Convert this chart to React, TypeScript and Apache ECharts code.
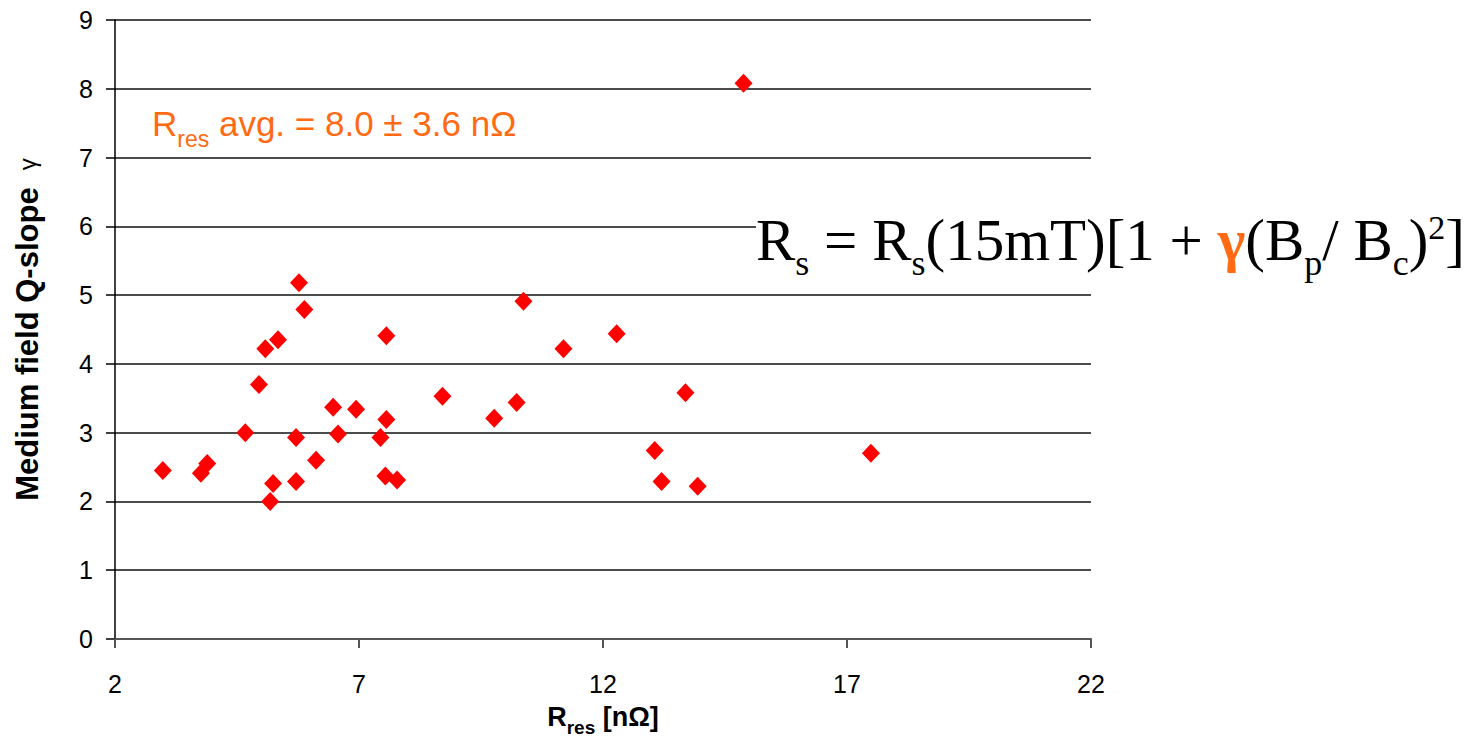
import React, { useEffect, useRef } from "react";
import * as echarts from "echarts";

const rres: number[] = [2.98, 3.76, 3.89, 4.67, 4.95, 5.08, 5.34, 5.18, 5.24, 5.71, 5.71, 5.77, 5.88, 6.12, 6.47, 6.57, 6.94, 7.44, 7.56, 7.56, 7.54, 7.78, 8.71, 9.77, 10.23, 10.37, 11.19, 12.28, 13.06, 13.2, 13.69, 13.94, 14.88, 17.49];
const gamma: number[] = [2.45, 2.41, 2.55, 3.0, 3.7, 4.22, 4.35, 2.0, 2.26, 2.29, 2.93, 5.18, 4.79, 2.6, 3.37, 2.98, 3.34, 2.93, 4.41, 3.19, 2.37, 2.31, 3.53, 3.21, 3.44, 4.91, 4.22, 4.44, 2.74, 2.29, 3.58, 2.22, 8.08, 2.7];
const xTicks: number[] = [2, 7, 12, 17, 22];
const yTicks: number[] = [0, 1, 2, 3, 4, 5, 6, 7, 8, 9];

const FONT = "'Liberation Sans', Arial, sans-serif";
const SERIF = "'Liberation Serif', 'DejaVu Serif', serif";
const ORANGE = "#ff6a13";

export default function App() {
  const ref = useRef<HTMLDivElement>(null);
  useEffect(() => {
    if (!ref.current) return;
    const chart = echarts.init(ref.current, null, { renderer: "svg" });
    const data = rres.map((x, i) => [x, gamma[i]]);
    chart.setOption({
      animation: false,
      backgroundColor: "#ffffff",
      grid: { left: 115, top: 20, right: 383, bottom: 102 },
      xAxis: {
        type: "value",
        min: xTicks[0],
        max: xTicks[xTicks.length - 1],
        interval: 5,
        name: "{b|R}{s|res}{b| [nΩ]}",
        nameLocation: "middle",
        nameGap: 64,
        nameTextStyle: {
          rich: {
            b: { fontFamily: FONT, fontWeight: "bold", fontSize: 27, color: "#000", lineHeight: 34, verticalAlign: "top" },
            s: { fontFamily: FONT, fontWeight: "bold", fontSize: 19, color: "#000", lineHeight: 16, verticalAlign: "bottom" },
          },
        },
        axisLine: { show: true, lineStyle: { color: "#555", width: 2 } },
        axisTick: { show: true, inside: false, length: 9, lineStyle: { color: "#555", width: 2 } },
        axisLabel: { fontFamily: FONT, fontSize: 25, color: "#000", margin: 32 },
        splitLine: { show: false },
      },
      yAxis: {
        type: "value",
        min: yTicks[0],
        max: yTicks[yTicks.length - 1],
        interval: 1,
        name: "{b|Medium field Q-slope  }{g|γ}",
        nameLocation: "middle",
        nameGap: 72,
        nameRotate: 90,
        nameTextStyle: {
          rich: {
            b: { fontFamily: FONT, fontWeight: "bold", fontSize: 31, color: "#000" },
            g: { fontFamily: FONT, fontWeight: "normal", fontSize: 24, color: "#000" },
          },
        },
        axisLine: { show: true, lineStyle: { color: "#000", width: 1.5 } },
        axisTick: { show: true, inside: false, length: 9, lineStyle: { color: "#000", width: 1.5 } },
        axisLabel: { fontFamily: FONT, fontSize: 25, color: "#000", margin: 22 },
        splitLine: { show: true, lineStyle: { color: "#111", width: 1.5 } },
      },
      series: [
        {
          type: "scatter",
          data,
          symbol: "diamond",
          symbolSize: [18, 19],
          itemStyle: { color: "#ff0000", opacity: 1 },
          z: 5,
        },
      ],
      graphic: [
        {
          type: "text",
          left: 152,
          top: 106,
          z: 10,
          style: {
            text: "{m|R}{s|res}{m| avg. = 8.0 ± 3.6 nΩ}",
            rich: {
              m: { fontFamily: FONT, fontSize: 35, fill: ORANGE, lineHeight: 44, verticalAlign: "top" },
              s: { fontFamily: FONT, fontSize: 23, fill: ORANGE, lineHeight: 18, verticalAlign: "bottom" },
            },
          },
        },
        {
          type: "text",
          left: 756,
          top: 210,
          z: 10,
          style: {
            text: "{m|R}{s|s}{m| = R}{s|s}{m|(15mT)[1 + }{g|γ}{m|(B}{s|p}{m|/ B}{s|c}{m|)}{p|2}{m|]}",
            backgroundColor: "#ffffff",
            rich: {
              m: { fontFamily: SERIF, fontSize: 59, fill: "#000", lineHeight: 71, verticalAlign: "top" },
              g: { fontFamily: SERIF, fontSize: 59, fill: ORANGE, fontWeight: "bold", lineHeight: 71, verticalAlign: "top" },
              s: { fontFamily: SERIF, fontSize: 36, fill: "#000", lineHeight: 30, verticalAlign: "bottom" },
              p: { fontFamily: SERIF, fontSize: 34, fill: "#000", lineHeight: 30, verticalAlign: "top" },
            },
          },
        },
      ],
    });
    return () => chart.dispose();
  }, []);
  return <div ref={ref} style={{ position: "absolute", left: 0, top: 0, width: 1474, height: 742 }} />;
}
